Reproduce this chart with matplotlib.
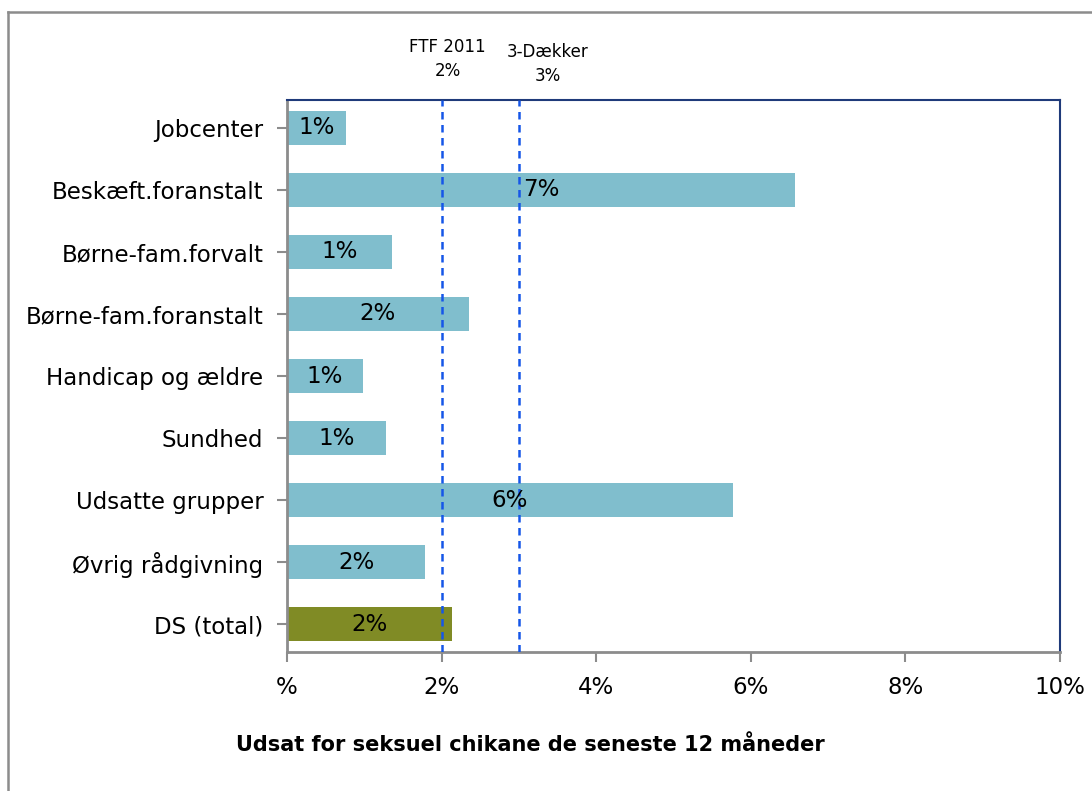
import matplotlib
matplotlib.use("Agg")
import matplotlib.pyplot as plt
from matplotlib.lines import Line2D
import matplotlib.transforms as mtransforms

# data
categories = ["Jobcenter", "Beskæft.foranstalt", "Børne-fam.forvalt",
              "Børne-fam.foranstalt", "Handicap og ældre", "Sundhed",
              "Udsatte grupper", "Øvrig rådgivning", "DS (total)"]
values = [0.76, 6.57, 1.36, 2.35, 0.98, 1.28, 5.77, 1.79, 2.13]
ref_names = ["FTF 2011", "3-Dækker"]
ref_values = [2, 3]
xticks = [0, 2, 4, 6, 8, 10]
xtick_labels = ["%", "2%", "4%", "6%", "8%", "10%"]

bar_color = "#80BECD"
total_color = "#808B25"
line_color = "#1556E8"

fig = plt.figure(figsize=(10.92, 7.91), dpi=100)
ax = fig.add_axes([0.2628, 0.1757, 0.7079, 0.6979])

colors = [bar_color] * (len(categories) - 1) + [total_color]
pos = list(range(len(categories)))
bars = ax.barh(pos, values, height=0.54, color=colors, zorder=2)

for b, v in zip(bars, values):
    ax.text(b.get_x() + b.get_width() / 2, b.get_y() + b.get_height() / 2,
            f"{round(v):.0f}%", ha="center", va="center", fontsize=16.5, zorder=4)

# reference lines
trans = mtransforms.blended_transform_factory(ax.transData, ax.transAxes)
offsets = [0.08, 0.37]
lift = [1.036, 1.027]
for name, v, off, yl in zip(ref_names, ref_values, offsets, lift):
    ax.axvline(v, color=line_color, linestyle=(0, (3, 2.2)), linewidth=1.8, zorder=3)
    ax.text(v + off, yl, f"{name}\n{v}%", transform=trans, ha="center",
            va="bottom", fontsize=12, linespacing=1.45)

ax.set_xlim(0, 10)
ax.set_ylim(len(categories) - 0.55, -0.45)
ax.set_xticks(xticks)
ax.set_xticklabels(xtick_labels, fontsize=16.5)
ax.set_yticks(pos)
ax.set_yticklabels(categories, fontsize=16.5)
ax.tick_params(axis="both", color="#8C8C8C", length=7, width=1.5)
ax.tick_params(axis="x", pad=10)
ax.tick_params(axis="y", pad=10)

for side in ["left", "bottom"]:
    ax.spines[side].set_color("#8C8C8C")
    ax.spines[side].set_linewidth(2)
for side in ["top", "right"]:
    ax.spines[side].set_color("#1F3A7A")
    ax.spines[side].set_linewidth(1.5)

ax.set_xlabel("Udsat for seksuel chikane de seneste 12 måneder",
              fontsize=15, fontweight="bold")
ax.xaxis.set_label_coords(0.315, -0.15)

# outer chart frame (left and top edges visible)
fig.add_artist(Line2D([8 / 1092, 8 / 1092], [0, 1 - 12 / 791],
                      transform=fig.transFigure, color="#8C8C8C", linewidth=1.8))
fig.add_artist(Line2D([8 / 1092, 1], [1 - 12 / 791, 1 - 12 / 791],
                      transform=fig.transFigure, color="#8C8C8C", linewidth=1.8))

fig.savefig("out.png", dpi=100)
